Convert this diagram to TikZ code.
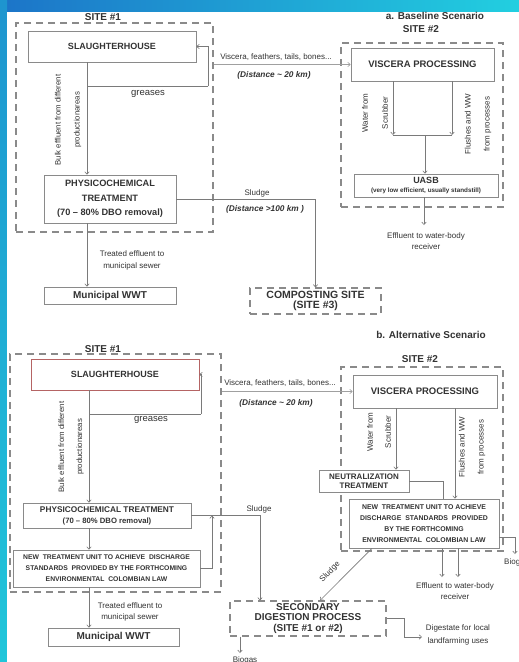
\documentclass[tikz,border=0pt]{standalone}
\usepackage{fontspec}
\setmainfont{Liberation Sans}
\usetikzlibrary{arrows.meta}
\definecolor{txt}{HTML}{333333}
\definecolor{bord}{HTML}{8A8A8A}
\definecolor{lin}{HTML}{7A7A7A}
\definecolor{lite}{HTML}{A0A0A0}
\definecolor{dsh}{HTML}{8A8A8A}
\definecolor{redb}{HTML}{B56464}
\definecolor{bluA}{HTML}{1C74C8}
\definecolor{bluB}{HTML}{22CFE0}
\definecolor{bluC}{HTML}{20C6DA}
\newcommand\fz[2]{\fontsize{#1}{#2}\selectfont}
\begin{document}
\begin{tikzpicture}[x=1pt,y=-1pt,
  box/.style={draw=bord,line width=0.7pt,fill=white,inner sep=0pt,text=txt,align=center},
  dbox/.style={draw=dsh,line width=1.1pt,dash pattern=on 7pt off 5pt,fill=white,inner sep=0pt,text=txt,align=center},
  sitebox/.style={draw=dsh,line width=1.1pt,dash pattern=on 7pt off 5pt,inner sep=0pt},
  conn/.style={draw=lin,line width=0.6pt},
  arr/.style={conn,-{Straight Barb[length=2.5pt,width=4.5pt]}},
  larr/.style={arr,draw=lite},
  lab/.style={text=txt,inner sep=0pt,align=center},
  small/.style={lab,font=\fz{8}{11}},
  bulk/.style={lab,rotate=90,font=\fz{7.8}{19}},
  ttl/.style={lab,font=\bfseries\fz{10}{12}},
  dist/.style={lab,font=\bfseries\itshape\fz{8.3}{10}}
]
\useasboundingbox (0,0) rectangle (519,662);
% background
\shade[left color=bluA,right color=bluB] (0,0) rectangle (519,12);
\shade[top color=bluA!60!bluC,bottom color=bluC] (0,0) rectangle (7,662);
\fill[white] (7,12) rectangle (519,662);

% ================= a. Baseline scenario =================
\node[ttl] (ta) at (435,15.5) {a. Baseline Scenario};
\node[sitebox,minimum width=197pt,minimum height=209pt] (s1a) at (114.5,127.5) {};
\node[ttl,fill=white,inner xsep=2pt] (l1a) at (103,17) {SITE \#1};
\node[sitebox,minimum width=162pt,minimum height=164pt] (s2a) at (422,125) {};
\node[ttl,fill=white,inner xsep=2pt] (l2a) at (421,29) {SITE \#2};

\node[box,minimum width=168pt,minimum height=31pt,font=\bfseries\fz{9}{11}] (sla) at (112,46.5) {SLAUGHTERHOUSE};
\node[box,minimum width=132pt,minimum height=48pt,font=\bfseries\fz{9.2}{14.5}] (phya) at (110,199) {PHYSICOCHEMICAL\\TREATMENT\\(70 -- 80\% DBO removal)};
\node[box,minimum width=132pt,minimum height=17pt,font=\bfseries\fz{10}{12}] (mwa) at (110,295.5) {Municipal WWT};
\node[box,minimum width=143pt,minimum height=33pt,font=\bfseries\fz{9.5}{11}] (visa) at (422.5,64.5) {VISCERA PROCESSING};
\node[box,minimum width=144pt,minimum height=23pt,font=\bfseries\fz{9}{10}] (uasb) at (426,185.5) {UASB\\[-1pt]{\fz{6.3}{8}(very low efficient, usually standstill)}};
\node[dbox,minimum width=131pt,minimum height=26pt,font=\bfseries\fz{10.5}{10.5}] (compa) at (315.5,301) {COMPOSTING SITE\\(SITE \#3)};

\coordinate (bxa) at (87,86);
\coordinate (gxa) at (208,86);
\coordinate (j1) at (393,135);
\coordinate (j2) at (452,135);
\coordinate (jm) at (425,135);
\coordinate (ea) at (424,225);

\draw[arr] (sla.south -| bxa) -- (phya.north -| bxa);
\draw[conn] (bxa) -- (gxa);
\draw[arr] (gxa) |- (sla.east);
\draw[larr] (s1a.east |- visa.west) -- (visa.west);
\draw[arr] (visa.south -| j1) -- (j1);
\draw[arr] (visa.south -| j2) -- (j2);
\draw[conn] (j1) -- (j2);
\draw[arr] (jm) -- (uasb.north -| jm);
\draw[arr] (uasb.south -| ea) -- (ea);
\draw[arr] (phya.east) -| (compa.north);
\draw[arr] (phya.south -| bxa) -- (mwa.north -| bxa);

\node[lab,font=\fz{9.5}{11}] (gra) at (148,94) {greases};
\node[bulk] (bua) at (68,120) {Bulk effluent from different\\productionareas};
\node[small] (vla) at (276,57) {Viscera, feathers, tails, bones...};
\node[dist] (dla) at (274,75) {(Distance \textasciitilde{} 20 km)};
\node[bulk,font=\fz{8}{20}] (wsa) at (375,113) {Water from\\Scrubber};
\node[bulk,font=\fz{8}{19}] (fla) at (478,124) {Flushes and WW\\from processes};
\node[small] (efa) at (426,241.5) {Effluent to water-body\\receiver};
\node[small] (sga) at (257,193) {Sludge};
\node[dist] (dsa) at (265,209) {(Distance >100 km )};
\node[small,font=\fz{8}{12}] (tra) at (132,260) {Treated effluent to\\municipal sewer};

% ================= b. Alternative scenario =================
\node[ttl] (tb) at (431,335) {b. Alternative Scenario};
\node[sitebox,minimum width=211pt,minimum height=238pt] (s1b) at (115.5,473) {};
\node[ttl,fill=white,inner xsep=2pt] (l1b) at (103,349) {SITE \#1};
\node[sitebox,minimum width=162pt,minimum height=184pt] (s2b) at (422,459) {};
\node[ttl,fill=white,inner xsep=2pt] (l2b) at (420,359) {SITE \#2};

\node[box,draw=redb,minimum width=168pt,minimum height=31pt,font=\bfseries\fz{9}{11}] (slb) at (115,374.5) {SLAUGHTERHOUSE};
\node[box,minimum width=168pt,minimum height=25pt,font=\bfseries\fz{8.3}{11}] (phyb) at (107,515.5) {PHYSICOCHEMICAL TREATMENT\\{\fz{7.7}{9}(70 -- 80\% DBO removal)}};
\node[box,minimum width=187pt,minimum height=37pt,font=\bfseries\fz{6.8}{11}] (ntl) at (106.5,568.5) {NEW\ \ TREATMENT UNIT TO ACHIEVE\ \ DISCHARGE\\STANDARDS\ \ PROVIDED BY THE FORTHCOMING\\ENVIRONMENTAL\ \ COLOMBIAN LAW};
\node[box,minimum width=131pt,minimum height=18pt,font=\bfseries\fz{10}{12}] (mwb) at (113.5,637) {Municipal WWT};
\node[box,minimum width=144pt,minimum height=33pt,font=\bfseries\fz{9.5}{11}] (visb) at (425,391.5) {VISCERA PROCESSING};
\node[box,minimum width=90pt,minimum height=22pt,font=\bfseries\fz{8}{9}] (neut) at (364,481) {NEUTRALIZATION\\TREATMENT};
\node[box,minimum width=150pt,minimum height=49pt,font=\bfseries\fz{6.9}{11}] (ntr) at (424,523.5) {NEW\ \ TREATMENT UNIT TO ACHIEVE\\DISCHARGE\ \ STANDARDS\ \ PROVIDED\\BY THE FORTHCOMING\\ENVIRONMENTAL\ \ COLOMBIAN LAW};
\node[dbox,minimum width=156pt,minimum height=35pt,font=\bfseries\fz{10}{10.5}] (sec) at (308,618.5) {SECONDARY\\DIGESTION PROCESS\\(SITE \#1 or \#2)};

\coordinate (bxb) at (89,414);
\coordinate (gxb) at (201,414);
\coordinate (lp) at (212,515.5);
\coordinate (wbx) at (396,430);
\coordinate (fbx) at (455,430);
\coordinate (nbx) at (443,430);
\coordinate (e1) at (442,577);
\coordinate (e2) at (458,577);
\coordinate (br) at (515,554);
\coordinate (dgt) at (422,637);
\coordinate (bgb) at (240,653);

\draw[arr] (slb.south -| bxb) -- (phyb.north -| bxb);
\draw[conn] (bxb) -- (gxb);
\draw[arr] (gxb) |- (slb.east);
\draw[arr] (phyb.south -| bxb) -- (ntl.north -| bxb);
\draw[arr] (ntl.south -| bxb) -- (mwb.north -| bxb);
\draw[arr] (phyb.east) -| ([xshift=-48pt]sec.north);
\draw[arr] (ntl.east) -| (lp);
\draw[larr] (s1b.east |- visb.west) -- (visb.west);
\draw[arr] (visb.south -| wbx) -- (neut.north -| wbx);
\draw[arr] (visb.south -| fbx) -- (ntr.north -| fbx);
\draw[conn] (neut.east) -| (ntr.north -| nbx);
\draw[arr] (ntr.south -| e1) -- (e1);
\draw[arr] (ntr.south -| e2) -- (e2);
\draw[arr] ([yshift=-13.5pt]ntr.east) -| (br);
\draw[arr] ([xshift=-52pt]ntr.south) -- ([xshift=12pt]sec.north);
\draw[arr] (sec.east) -- ++(18,0) |- (dgt);
\draw[arr] (sec.south -| bgb) -- (bgb);

\node[lab,font=\fz{9.5}{11}] (grb) at (151,420) {greases};
\node[bulk,font=\fz{7.8}{18}] (bub) at (71,447) {Bulk effluent from different\\productionareas};
\node[small] (vlb) at (280,383) {Viscera, feathers, tails, bones...};
\node[dist] (dlb) at (276,403) {(Distance \textasciitilde{} 20 km)};
\node[bulk,font=\fz{8}{18}] (wsb) at (379,432) {Water from\\Scrubber};
\node[bulk,font=\fz{8}{19}] (flb) at (472,447) {Flushes and WW\\from processes};
\node[small] (sgb) at (259,509) {Sludge};
\node[small,rotate=45] (sgd) at (330,572) {Sludge};
\node[small,font=\fz{8}{11}] (trb) at (130,611.5) {Treated effluent to\\municipal sewer};
\node[small] (efb) at (455,591.5) {Effluent to water-body\\receiver};
\node[small,anchor=west] (bgr) at (504,562) {Biogas};
\node[small,font=\fz{8}{13}] (dgl) at (458,634.5) {Digestate for local\\landfarming uses};
\node[small,anchor=north] (bgl) at (245,656) {Biogas};
\end{tikzpicture}
\end{document}
